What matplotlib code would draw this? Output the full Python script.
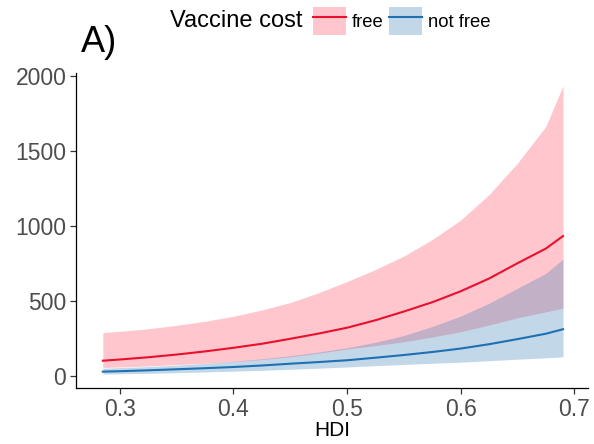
import matplotlib
matplotlib.use('Agg')
import matplotlib.pyplot as plt
from matplotlib.patches import Patch
from matplotlib.lines import Line2D

plt.rcParams['font.family'] = ['Liberation Sans', 'DejaVu Sans']

# values
hdi = [0.285, 0.30, 0.325, 0.35, 0.375, 0.40, 0.425, 0.45, 0.475, 0.50,
       0.525, 0.55, 0.575, 0.60, 0.625, 0.65, 0.675, 0.69]
free_mid = [102, 110, 125, 143, 164, 188, 215, 248, 283, 322,
            372, 430, 492, 565, 650, 752, 850, 933]
free_lo = [57, 60, 67, 76, 85, 96, 110, 128, 152, 180,
           203, 228, 260, 295, 340, 388, 428, 452]
free_hi = [290, 298, 315, 338, 365, 398, 440, 490, 555, 630,
           710, 800, 910, 1040, 1210, 1420, 1665, 1935]
notfree_mid = [29, 32, 38, 45, 52, 60, 70, 82, 93, 105,
               122, 140, 160, 183, 212, 246, 282, 312]
notfree_lo = [13, 15, 18, 22, 27, 32, 38, 45, 52, 60,
              69, 77, 85, 92, 102, 112, 121, 128]
notfree_hi = [52, 56, 63, 72, 84, 98, 115, 135, 160, 188,
              225, 270, 330, 400, 485, 585, 685, 780]

x_ticks = [0.3, 0.4, 0.5, 0.6, 0.7]
y_ticks = [0, 500, 1000, 1500, 2000]

red_fill = '#FF1F3D'
blue_fill = '#377EB8'
red_line = '#E8112D'
blue_line = '#1F70B2'


def main():
    fig = plt.figure(figsize=(5.94, 4.44), dpi=100)
    ax = fig.add_axes([76 / 594, 56 / 444, 512 / 594, 315 / 444])

    ax.fill_between(hdi, free_lo, free_hi, color=red_fill, alpha=0.25, lw=0)
    ax.fill_between(hdi, notfree_lo, notfree_hi, color=blue_fill, alpha=0.3, lw=0)
    ax.plot(hdi, free_mid, color=red_line, lw=1.5)
    ax.plot(hdi, notfree_mid, color=blue_line, lw=1.5)

    ax.set_xlim(0.2614, 0.712)
    ax.set_ylim(-80, 2020)
    ax.set_xticks(x_ticks)
    ax.set_yticks(y_ticks)
    ax.set_xticklabels([str(t) for t in x_ticks])

    for side in ['top', 'right']:
        ax.spines[side].set_visible(False)
    for side in ['left', 'bottom']:
        ax.spines[side].set_linewidth(0.9)
        ax.spines[side].set_color('black')
    ax.tick_params(length=4, width=0.9, color='#333333', labelcolor='#4D4D4D',
                   labelsize=16.5, pad=3)
    ax.set_xlabel('HDI', fontsize=15, color='black', labelpad=0.5)

    fig.text(81 / 594, 1 - 43 / 444, 'A)', fontsize=26, va='center', ha='left')
    fig.text(302 / 594, 1 - 21 / 444, 'Vaccine cost', fontsize=17,
             va='center', ha='right')

    h_free = (Patch(facecolor=red_fill, alpha=0.25, lw=0),
              Line2D([], [], color=red_line, lw=1.5))
    h_nf = (Patch(facecolor=blue_fill, alpha=0.3, lw=0),
            Line2D([], [], color=blue_line, lw=1.5))
    fig.legend([h_free, h_nf], ['free', 'not free'], ncol=2, frameon=False,
               loc='center left', bbox_to_anchor=(313 / 594, 1 - 21 / 444),
               fontsize=13.3, handlelength=1.8, handleheight=1.9,
               handletextpad=0.3, columnspacing=0.3, borderpad=0,
               borderaxespad=0)

    fig.savefig('out.png', dpi=100)


if __name__ == "__main__":
    main()
